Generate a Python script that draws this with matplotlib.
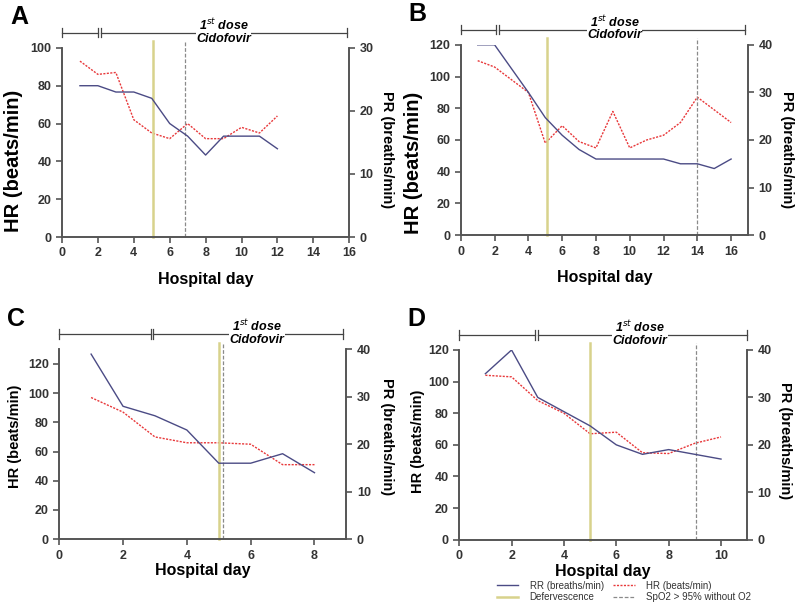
import matplotlib
matplotlib.use('Agg')
import matplotlib.pyplot as plt
import numpy as np

plt.rcParams['font.family'] = ['Liberation Sans', 'DejaVu Sans']

# Panel A
days_a = [1, 2, 3, 4, 5, 6, 7, 8, 9, 10, 11, 12]
rr_a = [24, 24, 23, 23, 22, 18, 16, 13, 16, 16, 16, 14]
hr_a = [93, 86, 87, 62, 55, 52, 60, 52, 52, 58, 55, 64]
# Panel B
days_b = [1, 2, 3, 4, 5, 6, 7, 8, 9, 10, 11, 12, 13, 14, 15, 16]
rr_b = [40, 40, 35, 30, 24.7, 21, 18, 16, 16, 16, 16, 16, 15, 15, 14, 16]
hr_b = [110, 106, 98, 90, 58, 69, 59, 55, 78, 55, 60, 63, 71, 87, 79, 71]
# Panel C
days_c = [1, 2, 3, 4, 5, 6, 7, 8]
rr_c = [39, 28, 26, 23, 16, 16, 18, 14]
hr_c = [97, 87, 70, 66, 66, 65, 51, 51]
# Panel D
days_d = [1, 2, 3, 4, 5, 6, 7, 8, 9, 10]
rr_d = [35, 40, 30, 27, 24, 20, 18, 19, 18, 17]
hr_d = [104, 103, 88, 80, 67, 68, 55, 54.5, 61, 65]

# events: defervescence day, SpO2 > 95% day
defervescence = [5.05, 5.08, 5.02, 4.98]
spo2_day = [6.87, 13.97, 5.12, 9.03]

panels = [
    dict(letter='A', days=days_a, rr=rr_a, hr=hr_a, xmax=16, xticks=np.arange(0, 17, 2),
         hr_lim=100, hr_ticks=np.arange(0, 101, 20), pr_lim=30, pr_ticks=[0, 10, 20, 30],
         brk=(2.03, 2.15), bar_end=15.9, text_x=9.0, pos=[0.0775, 0.614, 0.359, 0.308],
         labelpad=9, hr_size=14.5, hr_xy=(-0.136, 0.40), pr_xy=(1.13, 0.46)),
    dict(letter='B', days=days_b, rr=rr_b, hr=hr_b, xmax=17, xticks=np.arange(0, 17, 2),
         hr_lim=120, hr_ticks=np.arange(0, 121, 20), pr_lim=40, pr_ticks=[0, 10, 20, 30, 40],
         brk=(2.1, 2.25), bar_end=16.8, text_x=9.1, pos=[0.576, 0.617, 0.359, 0.310],
         labelpad=9, hr_size=14.5, hr_xy=(-0.132, 0.38), pr_xy=(1.136, 0.45)),
    dict(letter='C', days=days_c, rr=rr_c, hr=hr_c, xmax=9, xticks=np.arange(0, 9, 2),
         hr_lim=130, hr_ticks=np.arange(0, 121, 20), pr_lim=40, pr_ticks=[0, 10, 20, 30, 40],
         brk=(2.87, 2.95), bar_end=8.9, text_x=6.2, pos=[0.074, 0.122, 0.359, 0.309],
         labelpad=1, hr_size=10.5, hr_xy=(-0.129, 0.54), pr_xy=(1.143, 0.54)),
    dict(letter='D', days=days_d, rr=rr_d, hr=hr_d, xmax=11, xticks=np.arange(0, 11, 2),
         hr_lim=120, hr_ticks=np.arange(0, 121, 20), pr_lim=40, pr_ticks=[0, 10, 20, 30, 40],
         brk=(2.9, 3.0), bar_end=11.0, text_x=6.9, pos=[0.574, 0.121, 0.360, 0.309],
         labelpad=1, hr_size=10.5, hr_xy=(-0.118, 0.52), pr_xy=(1.132, 0.52)),
]

blue = '#4b4b85'
red = '#e8383a'
yellow = '#d8d28c'
grey = '#8a8a8a'
spine_col = '#555555'

fig = plt.figure(figsize=(8, 6.14), dpi=100)

for i, p in enumerate(panels):
    ax = fig.add_axes(p['pos'])
    ax2 = ax.twinx()
    ax.set_xlim(0, p['xmax'])
    ax.set_ylim(0, p['hr_lim'])
    ax2.set_ylim(0, p['pr_lim'])
    ax.set_xticks(p['xticks'])
    ax.set_yticks(p['hr_ticks'])
    ax2.set_yticks(p['pr_ticks'])

    for a in (ax, ax2):
        a.spines['top'].set_visible(False)
        for s in ('left', 'right', 'bottom'):
            a.spines[s].set_color(spine_col)
            a.spines[s].set_linewidth(1.2)
        a.tick_params(direction='out', length=4, width=1.2, color=spine_col, labelsize=9)
        for lab in a.get_xticklabels() + a.get_yticklabels():
            lab.set_fontweight('bold')
            lab.set_color('#333333')

    hr_line, = ax.plot(p['days'], p['hr'], color=red, lw=1.0, ls=(0, (1.5, 1)), label='HR (beats/min)')
    rr_line, = ax2.plot(p['days'], p['rr'], color=blue, lw=1.0, label='RR (breaths/min)')
    d_line = ax.axvline(defervescence[i], ymin=0, ymax=1.035, color=yellow, lw=1.8, clip_on=False,
                        label='Defervescence')
    s_line = ax.axvline(spo2_day[i], ymin=0, ymax=1.035, color=grey, lw=0.9, ls=(0, (3, 1.5)),
                        clip_on=False, label='SpO2 > 95% without O2')

    ax.set_ylabel('HR (beats/min)', fontsize=p['hr_size'], fontweight='bold')
    ax.yaxis.set_label_coords(*p['hr_xy'])
    ax2.set_ylabel('PR (breaths/min)', fontsize=10.5, fontweight='bold', rotation=270, va='center')
    ax2.yaxis.set_label_coords(*p['pr_xy'])
    ax.set_xlabel('Hospital day', fontsize=11.5, fontweight='bold', labelpad=p['labelpad'])

    # treatment bracket above the panel
    yb = 1.08
    b0, b1 = p['brk']
    trans = ax.get_xaxis_transform()
    ax.plot([0, b0], [yb, yb], color='#444444', lw=0.9, transform=trans, clip_on=False)
    ax.plot([b1, p['bar_end']], [yb, yb], color='#444444', lw=0.9, transform=trans, clip_on=False)
    for xv in (0, b0, b1, p['bar_end']):
        ax.plot([xv, xv], [yb - 0.025, yb + 0.025], color='#444444', lw=0.9, transform=trans,
                clip_on=False)
    ax.text(p['text_x'], yb + 0.01, '1$^{st}$ dose\nCidofovir', transform=trans, ha='center', va='center',
            fontsize=9, fontweight='bold', style='italic', linespacing=1.0,
            bbox=dict(facecolor='white', edgecolor='none', pad=0.3))

    fig.text(p['pos'][0] - 0.065, p['pos'][1] + p['pos'][3] + 0.05, p['letter'],
             fontsize=18, fontweight='bold', ha='left', va='center')

    if p['letter'] == 'D':
        handles = [rr_line, d_line, hr_line, s_line]

leg = fig.legend(handles, [h.get_label() for h in handles], ncol=2, loc='center',
                 bbox_to_anchor=(0.78, 0.037), frameon=False, fontsize=7,
                 handlelength=2.2, columnspacing=1.0, labelspacing=0.15, handletextpad=1.2)
for t in leg.get_texts():
    t.set_color('#333333')

fig.savefig('out.png', dpi=100)
